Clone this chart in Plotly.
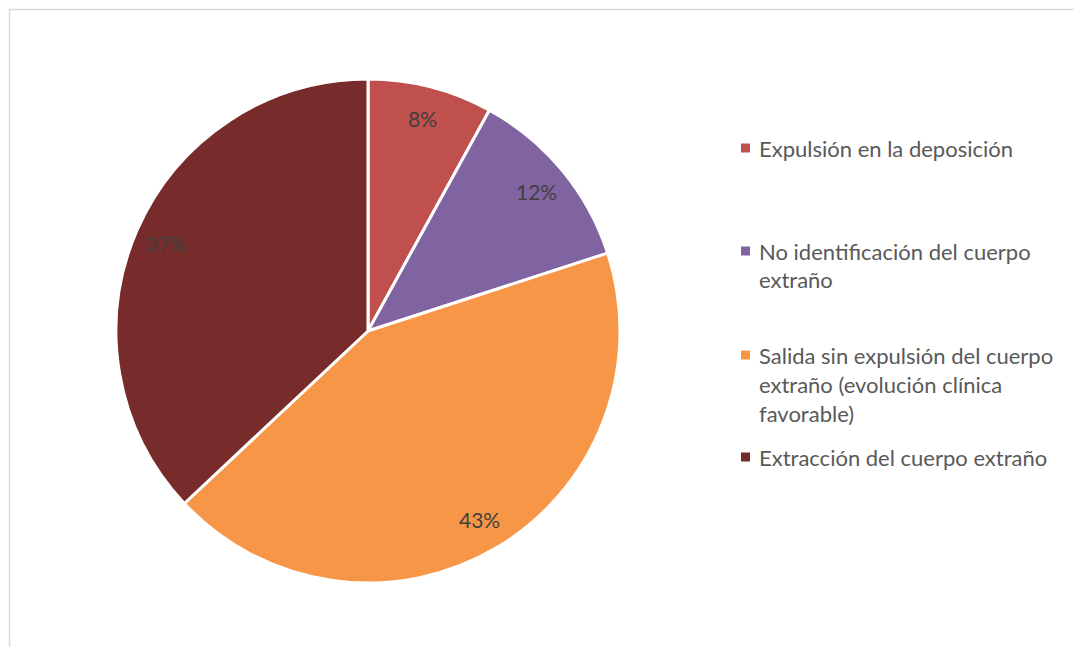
import math
import plotly.graph_objects as go

# Categories and shares (%)
categories = [
    "Expulsión en la deposición",
    "No identificación del cuerpo extraño",
    "Salida sin expulsión del cuerpo extraño (evolución clínica favorable)",
    "Extracción del cuerpo extraño",
]
legend_lines = [
    ["Expulsión en la deposición"],
    ["No identificación del cuerpo", "extraño"],
    ["Salida sin expulsión del cuerpo", "extraño (evolución clínica", "favorable)"],
    ["Extracción del cuerpo extraño"],
]
values = [8, 12, 43, 37]
colors = ["#C0504D", "#8064A2", "#F79646", "#772B2A"]

W, H = 1074, 647
cx, cy, R = 368, 331, 252  # pie centre and radius in pixels

font_family = "Lato, 'Open Sans', sans-serif"

fig = go.Figure()
fig.add_trace(go.Pie(
    labels=categories,
    values=values,
    sort=False,
    direction="clockwise",
    rotation=0,
    marker=dict(colors=colors, line=dict(color="white", width=3)),
    textinfo="none",
    hoverinfo="label+percent",
    showlegend=False,
    domain=dict(x=[(cx - R) / W, (cx + R) / W], y=[1 - (cy + R) / H, 1 - (cy - R) / H]),
))

# Percentage labels placed along each slice's mid-angle
total = sum(values)
cum = 0
annotations = []
for v in values:
    mid = 90 - (cum + v / 2) / total * 360
    cum += v
    rad = math.radians(mid)
    px = cx + 0.87 * R * math.cos(rad)
    py = cy - 0.87 * R * math.sin(rad)
    annotations.append(dict(
        x=px / W, y=1 - py / H, xref="paper", yref="paper",
        text=f"{round(v / total * 100)}%", showarrow=False,
        font=dict(family=font_family, size=21, color="#404040"),
        xanchor="center", yanchor="middle",
    ))

# Legend drawn as coloured squares with wrapped text
shapes = []
item_tops = [148, 251, 355, 457]
line_h = 29
for lines, col, y0 in zip(legend_lines, colors, item_tops):
    shapes.append(dict(
        type="rect", xref="paper", yref="paper",
        x0=741 / W, x1=750 / W, y0=1 - (y0 + 4.5) / H, y1=1 - (y0 - 4.5) / H,
        fillcolor=col, line=dict(width=0),
    ))
    for i, t in enumerate(lines):
        annotations.append(dict(
            x=757 / W, y=1 - (y0 + i * line_h) / H, xref="paper", yref="paper",
            text=t, showarrow=False, xanchor="left", yanchor="middle",
            font=dict(family=font_family, size=22, color="#595959"),
        ))

# Chart area border
shapes.append(dict(
    type="rect", xref="paper", yref="paper",
    x0=9.5 / W, x1=1.01, y0=-0.01, y1=1 - 9.5 / H,
    line=dict(color="#D9D9D9", width=1.5), fillcolor="rgba(0,0,0,0)",
))

fig.update_layout(
    width=W, height=H,
    margin=dict(l=0, r=0, t=0, b=0),
    paper_bgcolor="white",
    plot_bgcolor="white",
    annotations=annotations,
    shapes=shapes,
)

fig.write_html("out.html")
